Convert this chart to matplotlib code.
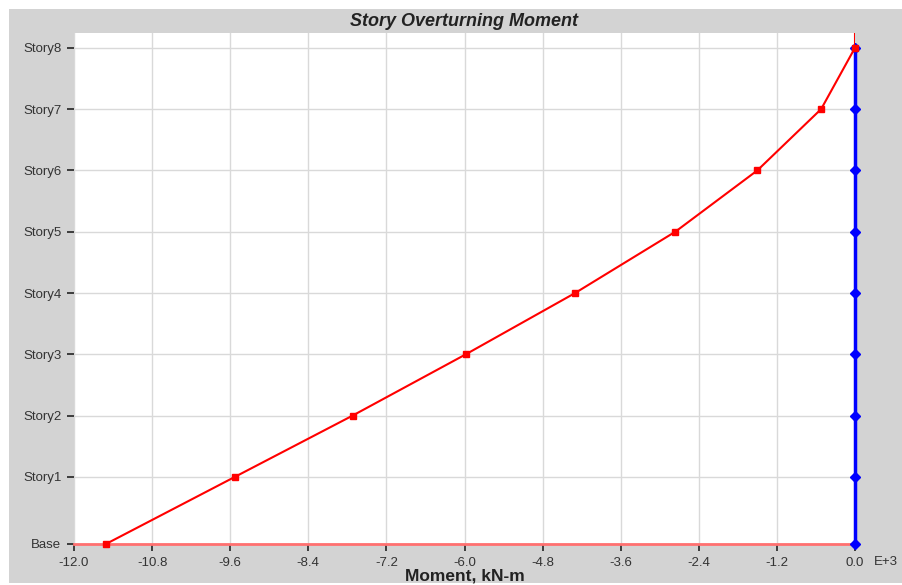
import matplotlib
matplotlib.use("Agg")
import matplotlib.pyplot as plt
from matplotlib.patches import Rectangle

# Data
stories = ["Base", "Story1", "Story2", "Story3", "Story4", "Story5", "Story6", "Story7", "Story8"]
elevation = [0.0, 3.5, 6.7, 9.9, 13.1, 16.3, 19.5, 22.7, 25.9]
moment_x = [-11.51, -9.53, -7.72, -5.98, -4.30, -2.76, -1.50, -0.52, 0.0]   # E+3 kN-m
moment_y = [0.0, 0.0, 0.0, 0.0, 0.0, 0.0, 0.0, 0.0, 0.0]
xticks = [-12.0, -10.8, -9.6, -8.4, -7.2, -6.0, -4.8, -3.6, -2.4, -1.2, 0.0]

plt.rcParams['font.family'] = ['Liberation Sans', 'DejaVu Sans']

W, H = 903, 585
fig = plt.figure(figsize=(W / 100, H / 100), dpi=100, facecolor='white')
bg = Rectangle((9 / W, 2 / H), 1 - 9 / W, 1 - 11 / H,
               transform=fig.transFigure, facecolor='#d3d3d3',
               edgecolor='none', zorder=-10)
fig.add_artist(bg)

ax = fig.add_axes([74 / W, 1 - 544 / H, (855 - 74) / W, (544 - 33) / H])
ax.set_zorder(1)
ax.set_facecolor('white')
ytop = elevation[-1] + 0.77
ax.set_xlim(-12.0, 0.0)
ax.set_ylim(elevation[0], ytop)

ax.set_xticks(xticks)
ax.set_xticklabels([f"{t:.1f}" for t in xticks])
ax.set_yticks(elevation)
ax.set_yticklabels(stories)
ax.grid(True, color='#d9d9d9', linewidth=1.0)
ax.set_axisbelow(True)
for s in ax.spines.values():
    s.set_visible(False)

ax.tick_params(axis='both', direction='out', colors='#222222', labelcolor='#333333',
               labelsize=9.5, length=5, width=1.2, pad=4)
ax.tick_params(axis='y', pad=4)

# base line
ax.axhline(elevation[0], color='#ff7070', linewidth=2, zorder=2, clip_on=False)

# series
ax.plot(moment_y, elevation, color='#0000ff', linewidth=2.5, marker='D',
        markersize=5, zorder=3, clip_on=False)
ax.plot(moment_x, elevation, color='#ff0000', linewidth=1.5, marker='s',
        markersize=5, zorder=4, clip_on=False)
ax.vlines(moment_x[-1], elevation[-1], ytop, color='#ff0000', linewidth=1.5, zorder=4)

ax.set_title("Story Overturning Moment", fontsize=13, fontweight='bold',
             fontstyle='italic', color='#222222', pad=5)
ax.set_xlabel("Moment, kN-m", fontsize=12.5, fontweight='bold', color='#222222', labelpad=0)
ax.text(1.024, -0.036, "E+3", transform=ax.transAxes, fontsize=9.5, color='#333333',
        ha='left', va='center')

fig.savefig("out.png", dpi=100, facecolor='white')
